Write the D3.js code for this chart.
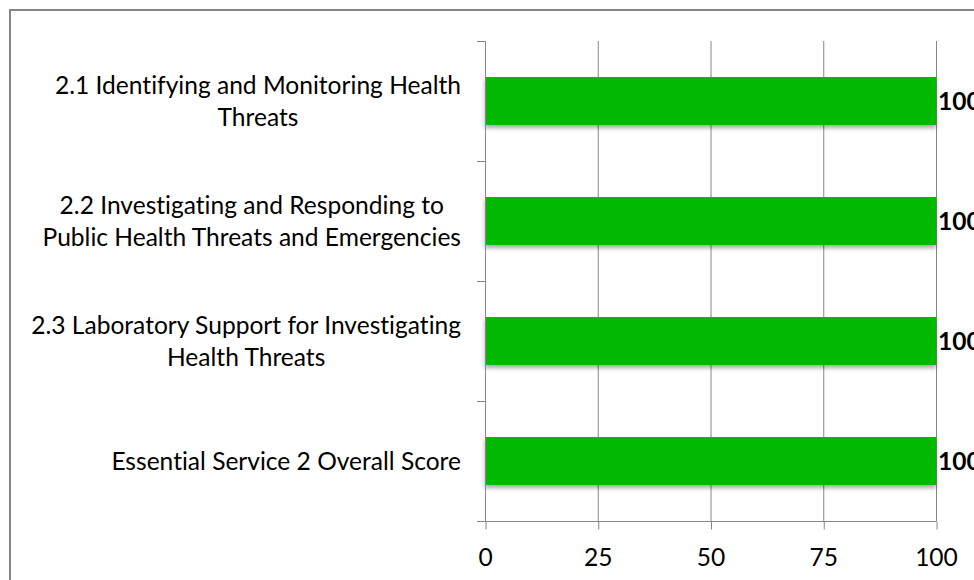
<!DOCTYPE html>
<html><head><meta charset="utf-8">
<script src="https://cdn.jsdelivr.net/npm/d3@7"></script>
<style>body{margin:0;background:#fff}svg{display:block}text{font-variant-ligatures:none;font-feature-settings:"liga" 0,"clig" 0}</style>
</head><body>
<svg id="c" width="974" height="580"></svg>
<script>
const categories = [
  "2.1 Identifying and Monitoring Health Threats",
  "2.2 Investigating and Responding to Public Health Threats and Emergencies",
  "2.3 Laboratory Support for Investigating Health Threats",
  "Essential Service 2 Overall Score"
];
const scores = [100, 100, 100, 100];
const xTicks = [0, 25, 50, 75, 100];

const FONT = "Lato, 'Open Sans', sans-serif";
const AXIS = "#868686";
const BAR = "#00b900";

const svg = d3.select("#c");

// drop shadow
const defs = svg.append("defs");
const f = defs.append("filter").attr("id","sh").attr("x","-5%").attr("y","-20%").attr("width","110%").attr("height","160%");
f.append("feDropShadow").attr("dx",0).attr("dy",3).attr("stdDeviation",2).attr("flood-color","#000").attr("flood-opacity",0.35);

// chart border
svg.append("rect").attr("x",10).attr("y",10).attr("width",1000).attr("height",620)
  .attr("fill","none").attr("stroke",AXIS).attr("stroke-width",2);

// font size fit
const probe = svg.append("text").attr("font-family",FONT).attr("font-size",20)
  .text("2.3 Laboratory Support for Investigating");
const fs = 20 * 430 / probe.node().getComputedTextLength();
probe.remove();

const x = d3.scaleLinear().domain([0,100]).range([485,936]);
const y = d3.scaleBand().domain(categories).range([41,521]).paddingInner(0.6).paddingOuter(0.3);

// gridlines
svg.append("g").selectAll("line").data(xTicks.slice(1)).join("line")
  .attr("x1",d=>x(d)+0.5).attr("x2",d=>x(d)+0.5).attr("y1",41).attr("y2",521)
  .attr("stroke",AXIS).attr("stroke-width",1);

// bars
svg.append("g").selectAll("rect").data(categories).join("rect")
  .attr("x",x(0)).attr("y",d=>y(d)).attr("width",(d,i)=>x(scores[i])-x(0))
  .attr("height",y.bandwidth()).attr("fill",BAR).attr("filter","url(#sh)");

// x axis
const xa = svg.append("g").attr("transform","translate(0,521.5)")
  .call(d3.axisBottom(x).tickValues(xTicks).tickSize(8).tickSizeOuter(0));
xa.select(".domain").attr("stroke",AXIS).attr("d","M477,0H936.5");
xa.selectAll(".tick line").attr("stroke",AXIS).attr("transform","translate(0.5,0)");
xa.selectAll(".tick text").attr("font-family",FONT).attr("font-size",fs).attr("fill","#000")
  .attr("y",36).attr("dy","0.35em");

// y axis (category boundaries)
const step = y.step();
const bounds = d3.range(categories.length+1).map(i=>41+i*step);
svg.append("line").attr("x1",485.5).attr("x2",485.5).attr("y1",41).attr("y2",522)
  .attr("stroke",AXIS);
svg.append("g").selectAll("line").data(bounds).join("line")
  .attr("x1",477).attr("x2",486).attr("y1",d=>d+0.5).attr("y2",d=>d+0.5).attr("stroke",AXIS);

// category labels (wrapped, centered block right-aligned to axis)
const meas = svg.append("text").attr("font-family",FONT).attr("font-size",fs);
function w(s){ meas.text(s); return meas.node().getComputedTextLength(); }
function wrap(s, limit){
  const words = s.split(" "); const lines=[]; let cur="";
  words.forEach(wd=>{ const t = cur? cur+" "+wd : wd; if (cur && w(t)>limit){ lines.push(cur); cur=wd; } else cur=t; });
  if (cur) lines.push(cur); return lines;
}
const labG = svg.append("g").attr("font-family",FONT).attr("font-size",fs).attr("fill","#000");
categories.forEach(c=>{
  const lines = wrap(c, 445);
  const mw = d3.max(lines, w);
  const cx = 461 - mw/2;
  const cy = y(c) + y.bandwidth()/2;
  const lh = 32;
  lines.forEach((ln,i)=>{
    labG.append("text").attr("x",cx).attr("y",cy + (i-(lines.length-1)/2)*lh)
      .attr("dy","0.35em").attr("text-anchor","middle").text(ln);
  });
});
meas.remove();

// value labels
svg.append("g").selectAll("text").data(categories).join("text")
  .attr("x",(d,i)=>x(scores[i])+2).attr("y",d=>y(d)+y.bandwidth()/2).attr("dy","0.35em")
  .attr("font-family",FONT).attr("font-size",fs).attr("font-weight","bold").attr("fill","#000")
  .text((d,i)=>scores[i]);
</script>
</body></html>
